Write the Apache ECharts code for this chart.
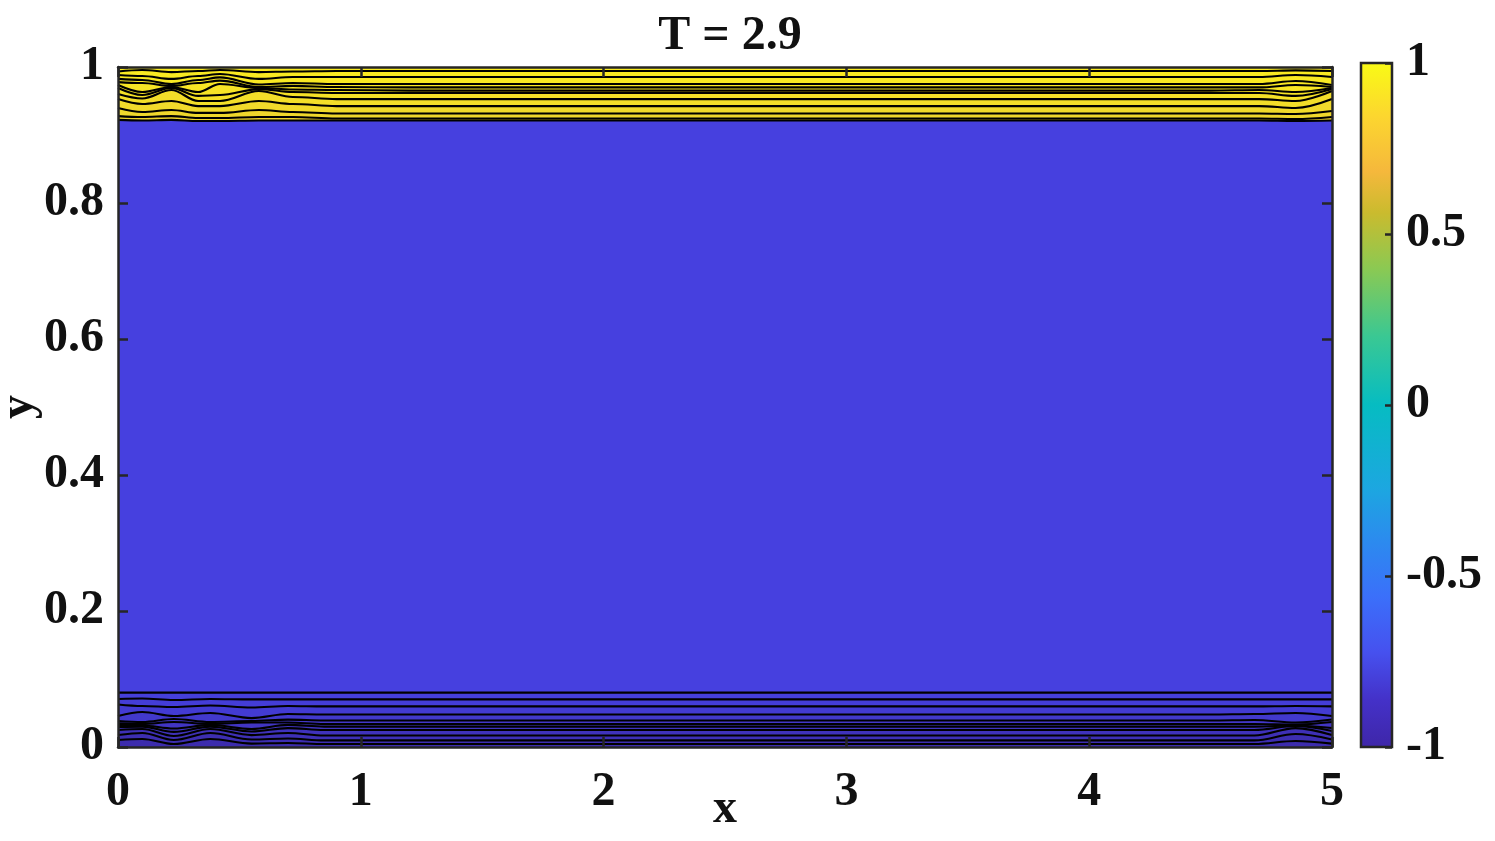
<!DOCTYPE html>
<html>
<head>
<meta charset="utf-8">
<script src="https://cdn.jsdelivr.net/npm/echarts@6/dist/echarts.min.js"></script>
<style>
html, body { margin: 0; padding: 0; background: #fff; }
#main { width: 1495px; height: 841px; }
</style>
</head>
<body>
<div id="main"></div>
<script>
var chart = echarts.init(document.getElementById('main'));

// contour lines near the top wall (y values at topX), from the interface upward
var topX = [0, 0.1, 0.22, 0.33, 0.42, 0.58, 0.72, 0.9, 1.2, 4.5, 4.7, 4.85, 5];
var topB  = [0.9221, 0.9213, 0.9221, 0.9206, 0.9206, 0.9213, 0.9213, 0.9213, 0.9213, 0.9213, 0.9213, 0.9206, 0.9213];
var top10 = [0.9279, 0.9265, 0.9279, 0.9250, 0.9250, 0.9265, 0.9265, 0.9243, 0.9243, 0.9243, 0.9243, 0.9235, 0.9265];
var top9  = [0.9397, 0.9338, 0.9368, 0.9324, 0.9324, 0.9368, 0.9338, 0.9316, 0.9316, 0.9316, 0.9316, 0.9309, 0.9353];
var top8  = [0.9529, 0.9456, 0.9500, 0.9426, 0.9426, 0.9500, 0.9456, 0.9426, 0.9426, 0.9426, 0.9426, 0.9397, 0.9529];
var top7  = [0.9603, 0.9537, 0.9662, 0.9500, 0.9500, 0.9647, 0.9559, 0.9529, 0.9529, 0.9529, 0.9529, 0.9500, 0.9647];
var top6  = [0.9691, 0.9588, 0.9691, 0.9574, 0.9588, 0.9676, 0.9632, 0.9618, 0.9618, 0.9618, 0.9618, 0.9574, 0.9676];
var top5  = [0.9735, 0.9632, 0.9706, 0.9632, 0.9750, 0.9691, 0.9669, 0.9662, 0.9654, 0.9654, 0.9662, 0.9632, 0.9691];
var top4  = [0.9779, 0.9765, 0.9721, 0.9765, 0.9801, 0.9706, 0.9721, 0.9706, 0.9699, 0.9699, 0.9699, 0.9735, 0.9706];
var top3  = [0.9824, 0.9809, 0.9750, 0.9809, 0.9846, 0.9743, 0.9765, 0.9750, 0.9750, 0.9750, 0.9750, 0.9794, 0.9735];
var top2  = [0.9882, 0.9868, 0.9824, 0.9868, 0.9897, 0.9824, 0.9853, 0.9853, 0.9853, 0.9853, 0.9853, 0.9882, 0.9853];
var top1  = [0.9934, 0.9956, 0.9926, 0.9941, 0.9956, 0.9926, 0.9934, 0.9941, 0.9941, 0.9941, 0.9941, 0.9949, 0.9941];
var topColors = ['#edd32d', '#efd72c', '#f1da2b', '#f3de29', '#f5e127', '#f6e326',
                 '#f7e525', '#f8e624', '#f8e823', '#f9e922', '#f9eb21'];

// contour lines near the bottom wall, from the interface downward
var botX = [0, 0.1, 0.23, 0.38, 0.55, 0.7, 0.85, 1.1, 4.5, 4.68, 4.85, 5];
var botB  = [0.0801, 0.0801, 0.0799, 0.0801, 0.0799, 0.0799, 0.0799, 0.0799, 0.0799, 0.0799, 0.0799, 0.0799];
var bot2  = [0.0706, 0.0713, 0.0691, 0.0706, 0.0699, 0.0699, 0.0699, 0.0699, 0.0699, 0.0699, 0.0699, 0.0699];
var bot3  = [0.0625, 0.0603, 0.0588, 0.0610, 0.0581, 0.0603, 0.0596, 0.0596, 0.0596, 0.0596, 0.0603, 0.0596];
var bot4  = [0.0456, 0.0515, 0.0456, 0.0500, 0.0426, 0.0485, 0.0478, 0.0478, 0.0478, 0.0485, 0.0500, 0.0456];
var bot5  = [0.0382, 0.0368, 0.0412, 0.0368, 0.0382, 0.0404, 0.0390, 0.0390, 0.0390, 0.0397, 0.0360, 0.0404];
var bot6  = [0.0346, 0.0338, 0.0368, 0.0338, 0.0360, 0.0360, 0.0338, 0.0338, 0.0338, 0.0338, 0.0331, 0.0368];
var bot7  = [0.0324, 0.0316, 0.0272, 0.0324, 0.0265, 0.0324, 0.0301, 0.0301, 0.0301, 0.0301, 0.0316, 0.0279];
var bot8  = [0.0294, 0.0301, 0.0221, 0.0301, 0.0228, 0.0279, 0.0250, 0.0250, 0.0250, 0.0250, 0.0309, 0.0235];
var bot9  = [0.0250, 0.0265, 0.0162, 0.0265, 0.0176, 0.0206, 0.0169, 0.0169, 0.0169, 0.0169, 0.0279, 0.0176];
var bot10 = [0.0176, 0.0206, 0.0103, 0.0206, 0.0110, 0.0125, 0.0096, 0.0096, 0.0096, 0.0096, 0.0191, 0.0110];
var bot11 = [0.0103, 0.0118, 0.0044, 0.0118, 0.0051, 0.0059, 0.0044, 0.0044, 0.0044, 0.0044, 0.0088, 0.0051];
var botColors = ['#453fdb', '#443dd7', '#433bd2', '#4239cc', '#4237c7', '#4135c3',
                 '#4034bf', '#3f32bb', '#3e30b6', '#3d2eb1', '#3c2cad'];

var bulkColor = '#4640df';
// parula-like colormap stops for the colorbar (fraction from -1 to 1)
var parula = [[0, '#3e26a8'], [0.07, '#4431c8'], [0.14, '#4651ef'], [0.22, '#3b6ffa'],
              [0.3, '#2c8aef'], [0.38, '#1ca7e0'], [0.5, '#06bcc2'], [0.6, '#3ac893'],
              [0.7, '#8cc952'], [0.78, '#cabb2e'], [0.84, '#f5b83c'], [0.92, '#fcd62f'],
              [1, '#f9fb15']];

var font = 'Liberation Serif';
var ink = '#262626';

function pairs(xs, ys) {
    var out = [];
    for (var i = 0; i < xs.length; i++) out.push([xs[i], ys[i]]);
    return out;
}

var series = [];
function addContours(xs, lines, colors, origin) {
    lines.forEach(function (ys, i) {
        series.push({
            type: 'line', data: pairs(xs, ys), smooth: 0.35, smoothMonotone: 'x',
            symbol: 'none', silent: true, z: 2,
            lineStyle: { width: 0, opacity: 0 },
            areaStyle: { color: colors[i], opacity: 1, origin: origin }
        });
    });
    lines.forEach(function (ys) {
        series.push({
            type: 'line', data: pairs(xs, ys), smooth: 0.35, smoothMonotone: 'x',
            symbol: 'none', silent: true, z: 3,
            lineStyle: { color: '#000', width: 2.2 }
        });
    });
}
addContours(topX, [topB, top10, top9, top8, top7, top6, top5, top4, top3, top2, top1], topColors, 'end');
addContours(botX, [botB, bot2, bot3, bot4, bot5, bot6, bot7, bot8, bot9, bot10, bot11], botColors, 'start');

// colorbar
series.push({
    type: 'custom', xAxisIndex: 2, yAxisIndex: 2, silent: true, z: 2,
    data: [[0, -1]],
    renderItem: function (params, api) {
        var p0 = api.coord([0, 1]);
        var p1 = api.coord([1, -1]);
        return {
            type: 'rect',
            shape: { x: p0[0], y: p0[1], width: p1[0] - p0[0], height: p1[1] - p0[1] },
            style: {
                fill: new echarts.graphic.LinearGradient(0, 1, 0, 0, parula.map(function (s) {
                    return { offset: s[0], color: s[1] };
                })),
                stroke: ink, lineWidth: 2.5
            }
        };
    }
});

var labelStyle = { fontFamily: font, fontWeight: 'bold', fontSize: 48, color: '#111' };
var lineStyle = { color: ink, width: 2.5 };

var option = {
    animation: false,
    backgroundColor: '#fff',
    title: {
        text: 'T = 2.9', left: 725, top: 8, textAlign: 'center',
        textStyle: { fontFamily: font, fontWeight: 'bold', fontSize: 48, color: '#111' }
    },
    grid: [
        { left: 118, top: 67, width: 1214, height: 680, show: true, backgroundColor: bulkColor,
          borderWidth: 0, containLabel: false, outerBoundsMode: 'none' },
        { left: 1361, top: 63, width: 31, height: 684, show: false,
          containLabel: false, outerBoundsMode: 'none' }
    ],
    xAxis: [
        {
            gridIndex: 0, type: 'value', min: 0, max: 5, interval: 1, position: 'bottom', z: 10,
            axisLine: { show: true, onZero: false, lineStyle: lineStyle },
            axisTick: { show: true, inside: true, length: 10, lineStyle: lineStyle },
            axisLabel: Object.assign({ margin: 22 }, labelStyle),
            splitLine: { show: false },
            name: 'x', nameLocation: 'middle', nameGap: 39, nameMoveOverlap: false,
            nameTextStyle: labelStyle
        },
        {
            gridIndex: 0, type: 'value', min: 0, max: 5, interval: 1, position: 'top', z: 10,
            axisLine: { show: true, onZero: false, lineStyle: lineStyle },
            axisTick: { show: true, inside: true, length: 10, lineStyle: lineStyle },
            axisLabel: { show: false }, splitLine: { show: false }
        },
        { gridIndex: 1, type: 'value', min: 0, max: 1, show: false }
    ],
    yAxis: [
        {
            gridIndex: 0, type: 'value', min: 0, max: 1, interval: 0.2, position: 'left', z: 10,
            axisLine: { show: true, onZero: false, lineStyle: lineStyle },
            axisTick: { show: true, inside: true, length: 10, lineStyle: lineStyle },
            axisLabel: Object.assign({ margin: 14 }, labelStyle),
            splitLine: { show: false },
            name: 'y', nameLocation: 'middle', nameGap: 74, nameMoveOverlap: false,
            nameTextStyle: labelStyle
        },
        {
            gridIndex: 0, type: 'value', min: 0, max: 1, interval: 0.2, position: 'right', z: 10,
            axisLine: { show: true, onZero: false, lineStyle: lineStyle },
            axisTick: { show: true, inside: true, length: 10, lineStyle: lineStyle },
            axisLabel: { show: false }, splitLine: { show: false }
        },
        {
            gridIndex: 1, type: 'value', min: -1, max: 1, interval: 0.5, position: 'right', z: 10,
            axisLine: { show: false, onZero: false },
            axisTick: { show: true, inside: true, length: 7, lineStyle: lineStyle },
            axisLabel: Object.assign({ margin: 14, showMinLabel: true, showMaxLabel: true }, labelStyle),
            splitLine: { show: false }
        }
    ],
    series: series
};

chart.setOption(option);
</script>
</body>
</html>
